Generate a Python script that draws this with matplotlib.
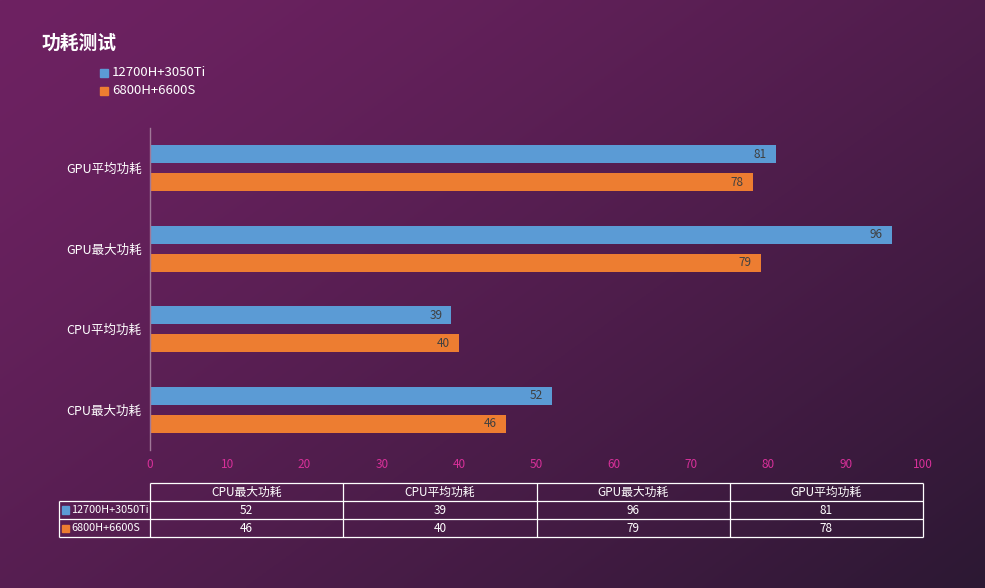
import matplotlib
matplotlib.use("Agg")
import matplotlib.pyplot as plt
import numpy as np
from matplotlib.patches import Rectangle

plt.rcParams['font.family'] = ['Noto Sans CJK SC', 'DejaVu Sans']

categories = ["CPU最大功耗", "CPU平均功耗", "GPU最大功耗", "GPU平均功耗"]
series_names = ["12700H+3050Ti", "6800H+6600S"]
blue_vals = [52, 39, 96, 81]
orange_vals = [46, 40, 79, 78]
xticks = [0, 10, 20, 30, 40, 50, 60, 70, 80, 90, 100]
title = "功耗测试"

BLUE = "#5b9bd5"
ORANGE = "#ed7d31"
TICK = "#d8309a"

W, H = 985, 588
fig = plt.figure(figsize=(W/100, H/100), dpi=100)

# gradient background
bg = fig.add_axes([0, 0, 1, 1])
bg.set_axis_off()
yy, xx = np.mgrid[0:1:200j, 0:1:300j]
t = np.clip((xx*0.55 + yy*0.45), 0, 1)
t = t**1.3
c0 = np.array([0x6e, 0x22, 0x62]) / 255
c1 = np.array([0x2c, 0x18, 0x33]) / 255
img = c0[None, None, :] * (1 - t[..., None]) + c1[None, None, :] * t[..., None]
bg.imshow(img, extent=[0, 1, 0, 1], aspect='auto', origin='upper')
bg.set_xlim(0, 1); bg.set_ylim(0, 1)

def fx(px): return px / W
def fy(py): return 1 - py / H

ax_l, ax_r, ax_t, ax_b = 150, 923, 128, 450
ax = fig.add_axes([fx(ax_l), fy(ax_b), fx(ax_r) - fx(ax_l), fy(ax_t) - fy(ax_b)])
ax.patch.set_alpha(0)

y = np.arange(len(categories))
h = 0.224
off = 0.174
ax.barh(y + off, blue_vals, height=h, color=BLUE)
ax.barh(y - off, orange_vals, height=h, color=ORANGE)
for yi, v in zip(y, blue_vals):
    ax.text(v - 1.2, yi + off, str(v), ha='right', va='center', fontsize=8.5, color='#404040')
for yi, v in zip(y, orange_vals):
    ax.text(v - 1.2, yi - off, str(v), ha='right', va='center', fontsize=8.5, color='#404040')

ax.set_xlim(0, 100)
ax.set_ylim(-0.5, 3.5)
ax.set_xticks(xticks)
ax.set_xticklabels([str(v) for v in xticks], color=TICK, fontsize=8.5)
ax.set_yticks(y)
ax.set_yticklabels(categories, color='white', fontsize=9)
ax.tick_params(axis='both', length=0)
ax.tick_params(axis='x', pad=6)
ax.tick_params(axis='y', pad=6)
for s in ['top', 'right', 'bottom']:
    ax.spines[s].set_visible(False)
ax.spines['left'].set_color('#a07898')
ax.spines['left'].set_linewidth(1)

# title
fig.text(fx(42), fy(43), title, fontsize=13.5, fontweight='bold', color='white', va='center', ha='left')

# legend
for i, (name, col) in enumerate(zip(series_names, [BLUE, ORANGE])):
    py = 73 + i * 18
    fig.patches.append(Rectangle((fx(100), fy(py + 4)), fx(8), fy(py - 4) - fy(py + 4),
                                 transform=fig.transFigure, color=col))
    fig.text(fx(112), fy(py), name, fontsize=9.5, color='white', va='center', ha='left')

# data table
tl, tr = 150, 923
rl = 59
rows_y = [483, 501, 519, 537]
ncol = len(categories)
colw = (tr - tl) / ncol
lw = 0.9
tc = 'white'
def hline(x0, x1, py):
    bg.plot([fx(x0), fx(x1)], [fy(py), fy(py)], color=tc, lw=lw, solid_capstyle='butt')
def vline(px, y0, y1):
    bg.plot([fx(px), fx(px)], [fy(y0), fy(y1)], color=tc, lw=lw, solid_capstyle='butt')

hline(tl, tr, rows_y[0])
for py in rows_y[1:]:
    hline(rl, tr, py)
vline(rl, rows_y[1], rows_y[3])
for j in range(ncol + 1):
    vline(tl + j * colw, rows_y[0], rows_y[3])

for j, cat in enumerate(categories):
    cx = tl + (j + 0.5) * colw
    fig.text(fx(cx), fy((rows_y[0] + rows_y[1]) / 2), cat, fontsize=8.5, color='white', ha='center', va='center')
for r, (vals, name, col) in enumerate(zip([blue_vals, orange_vals], series_names, [BLUE, ORANGE])):
    cy = (rows_y[r + 1] + rows_y[r + 2]) / 2
    fig.patches.append(Rectangle((fx(62), fy(cy + 3.5)), fx(7), fy(cy - 3.5) - fy(cy + 3.5),
                                 transform=fig.transFigure, color=col))
    fig.text(fx(71), fy(cy), name, fontsize=7.8, color='white', ha='left', va='center')
    for j, v in enumerate(vals):
        cx = tl + (j + 0.5) * colw
        fig.text(fx(cx), fy(cy), str(v), fontsize=8.5, color='white', ha='center', va='center')

fig.savefig("out.png", dpi=100)
